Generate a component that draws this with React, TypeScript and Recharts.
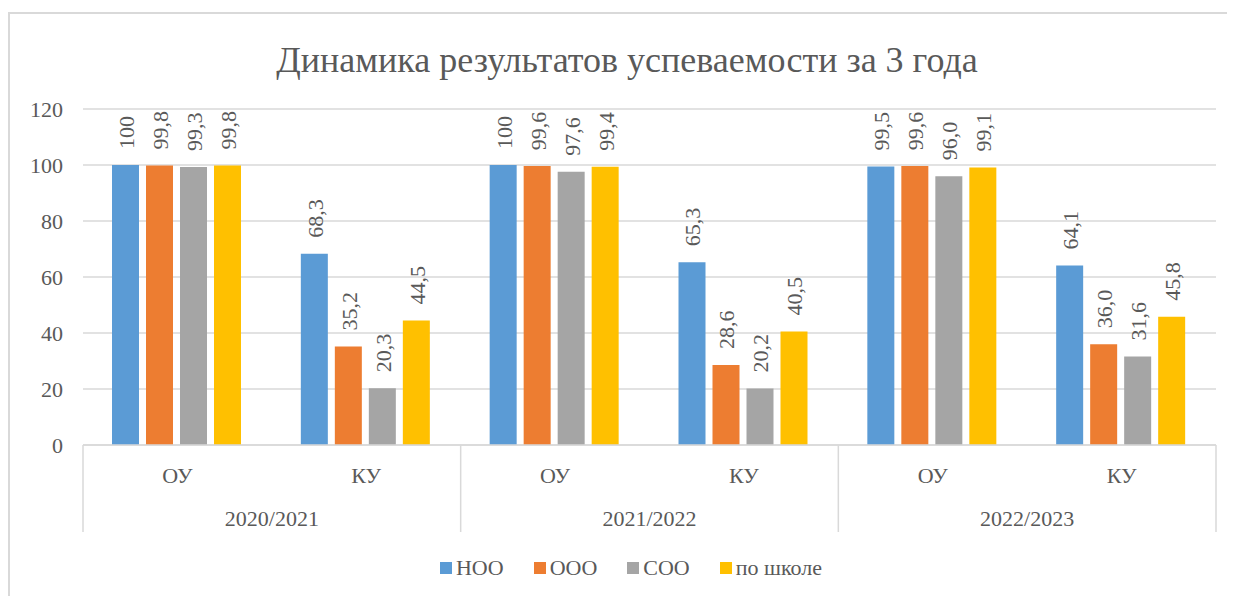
import React from "react";
import { BarChart, Bar, XAxis, YAxis, CartesianGrid, Legend, LabelList } from "recharts";

const years = ["2020/2021", "2021/2022", "2022/2023"];
const kinds = ["ОУ", "КУ"];
const seriesNames = ["НОО", "ООО", "СОО", "по школе"];
const colors = ["#5b9bd5", "#ed7d31", "#a5a5a5", "#ffc000"];

// values per category: ОУ/КУ for each year
const noo = [100, 68.3, 100, 65.3, 99.5, 64.1];
const ooo = [99.8, 35.2, 99.6, 28.6, 99.6, 36.0];
const soo = [99.3, 20.3, 97.6, 20.2, 96.0, 31.6];
const school = [99.8, 44.5, 99.4, 40.5, 99.1, 45.8];
const yTicks = [0, 20, 40, 60, 80, 100, 120];

const data = noo.map((_, i) => ({
  cat: kinds[i % 2],
  year: years[Math.floor(i / 2)],
  s0: noo[i],
  s1: ooo[i],
  s2: soo[i],
  s3: school[i],
}));

const FONT = "Liberation Serif, Times New Roman, serif";
const TEXT = "#595959";
const GRID = "#d9d9d9";

const W = 1225;
const H = 582;
const MARGIN = { top: 95, right: 19, bottom: 23, left: 0 };
const Y_W = 73;
const BAND = (W - MARGIN.left - MARGIN.right - Y_W) / data.length;

const fmt = (v: number) => (v === 100 ? "100" : v.toFixed(1).replace(".", ","));

function CatTick(props: any) {
  const { x, y, index, payload } = props;
  const row = data[index];
  return (
    <g>
      <text x={x} y={y + 38} textAnchor="middle" fill={TEXT} fontSize={22} fontFamily={FONT}>
        {payload.value}
      </text>
      {index % 2 === 0 && (
        <>
          <line x1={x - BAND / 2} x2={x - BAND / 2} y1={y} y2={y + 87} stroke={GRID} strokeWidth={1.5} />
          <text x={x + BAND / 2} y={y + 81} textAnchor="middle" fill={TEXT} fontSize={22} fontFamily={FONT}>
            {row.year}
          </text>
        </>
      )}
      {index === data.length - 1 && (
        <line x1={x + BAND / 2} x2={x + BAND / 2} y1={y} y2={y + 87} stroke={GRID} strokeWidth={1.5} />
      )}
    </g>
  );
}

function ValueLabel(props: any) {
  const { x, y, width, value } = props;
  const cx = x + width / 2 + 1;
  const ty = y - 16;
  return (
    <text
      x={cx}
      y={ty}
      transform={`rotate(-90 ${cx} ${ty})`}
      textAnchor="start"
      dominantBaseline="central"
      fill={TEXT}
      fontSize={22}
      fontFamily={FONT}
    >
      {fmt(value)}
    </text>
  );
}

function LegendContent(props: any) {
  const { payload } = props;
  return (
    <div
      style={{
        display: "flex",
        justifyContent: "center",
        gap: 30,
        paddingLeft: 36,
        fontFamily: FONT,
        fontSize: 22,
        color: TEXT,
        lineHeight: "28px",
      }}
    >
      {(payload || []).map((p: any) => (
        <span key={p.value} style={{ display: "flex", alignItems: "center" }}>
          <span style={{ width: 12, height: 12, background: p.color, marginRight: 4, display: "inline-block" }} />
          {p.value}
        </span>
      ))}
    </div>
  );
}

export default function App() {
  return (
    <div
      style={{
        position: "relative",
        marginTop: 4,
        width: W,
        height: H,
        borderLeft: `2px solid ${GRID}`,
        borderTop: `2px solid ${GRID}`,
        background: "#fff",
        fontFamily: FONT,
      }}
    >
      <div
        style={{
          position: "absolute",
          left: 0,
          top: 25,
          width: 1234,
          textAlign: "center",
          fontFamily: FONT,
          fontSize: 36,
          color: TEXT,
          lineHeight: "42px",
        }}
      >
        Динамика результатов успеваемости за 3 года
      </div>
      <BarChart width={W} height={H} data={data} margin={MARGIN} barCategoryGap={29} barGap={7}>
        <CartesianGrid vertical={false} stroke={GRID} strokeWidth={1.5} />
        <XAxis
          dataKey="cat"
          interval={0}
          tickLine={false}
          tickSize={0}
          tickMargin={0}
          axisLine={{ stroke: GRID, strokeWidth: 1.5 }}
          height={100}
          tick={<CatTick />}
        />
        <YAxis
          width={Y_W}
          domain={[0, 120]}
          ticks={yTicks}
          axisLine={false}
          tickLine={false}
          tickSize={0}
          tickMargin={20}
          tick={{ fill: TEXT, fontSize: 22, fontFamily: FONT }}
        />
        <Legend verticalAlign="bottom" wrapperStyle={{ bottom: 14 }} content={<LegendContent />} />
        {seriesNames.map((name, i) => (
          <Bar key={name} dataKey={`s${i}`} name={name} fill={colors[i]} isAnimationActive={false}>
            <LabelList dataKey={`s${i}`} content={<ValueLabel />} />
          </Bar>
        ))}
      </BarChart>
    </div>
  );
}
